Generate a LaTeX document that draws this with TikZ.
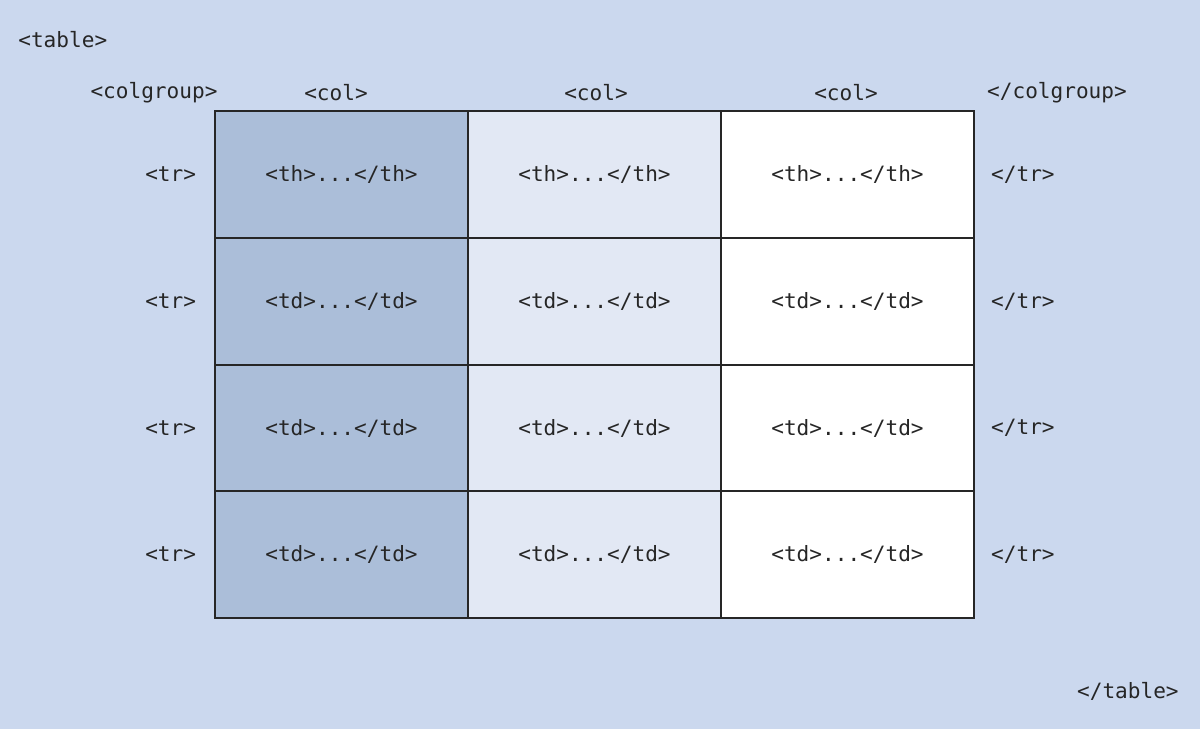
\documentclass[tikz,border=0pt]{standalone}
\usepackage{fontspec}
\setmonofont{DejaVu Sans Mono}
\usetikzlibrary{positioning}
\definecolor{bgblue}{HTML}{CBD8EE}
\definecolor{darkcol}{HTML}{ABBED9}
\definecolor{lightcol}{HTML}{E2E8F4}

\begin{document}
\begin{tikzpicture}[x=0.02cm,y=-0.02cm]
	\tikzstyle{tag} = [font=\ttfamily\fontsize{12}{14}\selectfont, text=black!85, inner sep=0pt]
	\tikzstyle{cell} = [draw=black!85, line width=1.2pt, minimum width=5.06cm, minimum height=2.535cm, inner sep=0pt, font=\ttfamily\fontsize{12}{14}\selectfont, text=black!85]
	\useasboundingbox (0,0) rectangle (1200,729);
	\fill[bgblue] (0,0) rectangle (1200,729);

	\node[tag,anchor=west] (TableOpen) at (18,40) {<table>};
	\node[tag] (ColgroupOpen) at (154,93) {<colgroup>};
	\node[tag] (ColA) at (336,93) {<col>};
	\node[tag] (ColB) at (596,93) {<col>};
	\node[tag] (ColC) at (846,93) {<col>};
	\node[tag] (ColgroupClose) at (1057,93) {</colgroup>};

	\node[cell,fill=darkcol] (HeadA) at (341.5,174.5) {<th>...</th>};
	\node[cell,fill=lightcol] (HeadB) at (594.5,174.5) {<th>...</th>};
	\node[cell,fill=white] (HeadC) at (847.5,174.5) {<th>...</th>};

	\node[cell,fill=darkcol] (BodyAA) at (341.5,301.5) {<td>...</td>};
	\node[cell,fill=lightcol] (BodyAB) at (594.5,301.5) {<td>...</td>};
	\node[cell,fill=white] (BodyAC) at (847.5,301.5) {<td>...</td>};

	\node[cell,fill=darkcol] (BodyBA) at (341.5,428) {<td>...</td>};
	\node[cell,fill=lightcol] (BodyBB) at (594.5,428) {<td>...</td>};
	\node[cell,fill=white] (BodyBC) at (847.5,428) {<td>...</td>};

	\node[cell,fill=darkcol] (BodyCA) at (341.5,554.5) {<td>...</td>};
	\node[cell,fill=lightcol] (BodyCB) at (594.5,554.5) {<td>...</td>};
	\node[cell,fill=white] (BodyCC) at (847.5,554.5) {<td>...</td>};

	\node[tag,left=10pt of HeadA.west] (TrOpenA) {<tr>};
	\node[tag,left=10pt of BodyAA.west] (TrOpenB) {<tr>};
	\node[tag,left=10pt of BodyBA.west] (TrOpenC) {<tr>};
	\node[tag,left=10pt of BodyCA.west] (TrOpenD) {<tr>};

	\node[tag,right=9pt of HeadC.east] (TrCloseA) {</tr>};
	\node[tag,right=9pt of BodyAC.east] (TrCloseB) {</tr>};
	\node[tag,right=9pt of BodyBC.east] (TrCloseC) {</tr>};
	\node[tag,right=9pt of BodyCC.east] (TrCloseD) {</tr>};

	\node[tag,anchor=east] (TableClose) at (1179,691) {</table>};
\end{tikzpicture}
\end{document}
